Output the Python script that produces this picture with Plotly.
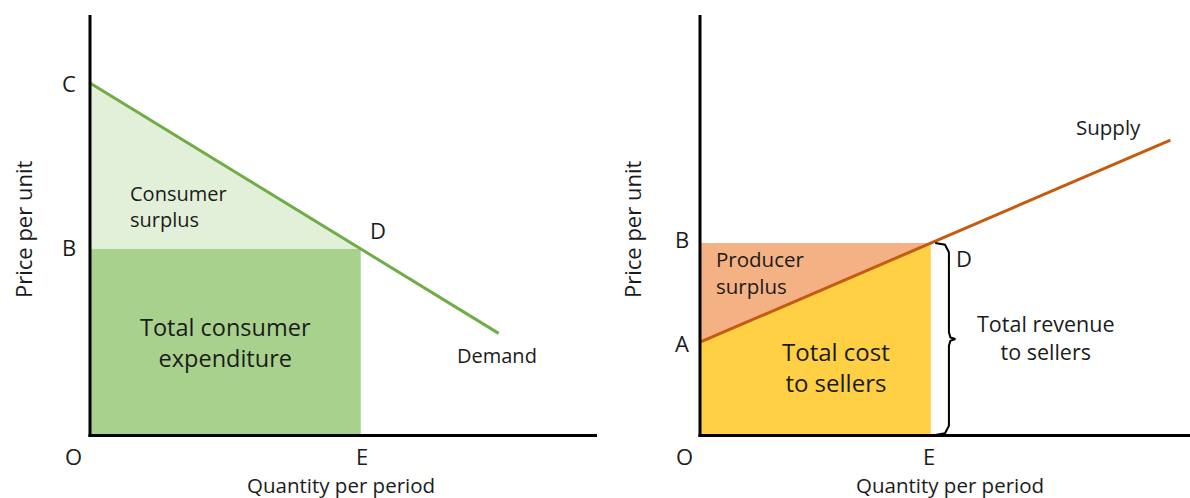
import plotly.graph_objects as go

# ---------------- data (abstract units, axes 0..100) ----------------
# Left panel: demand
demand_q = [0, 80.6]          # quantity at C and at end of demand line
demand_p = [83.8, 24.2]       # price at C and at end of demand line
eq1_q = 53.4                  # E (quantity)
eq1_p = 44.3                  # B (price)

# Right panel: supply
supply_q = [0, 96.0]
supply_p = [22.1, 70.2]       # A and end of supply line
eq2_q = 47.1                  # E
eq2_p = 45.7                  # B

W, H = 1190, 498
FONT = "Open Sans"
TXT = "#1b1b1b"

LIGHT_GREEN = "#E2F0D9"
MID_GREEN = "#A9D18E"
LINE_GREEN = "#70AD47"
ORANGE_FILL = "#F4B183"
YELLOW_FILL = "#FFD043"
LINE_ORANGE = "#C55A11"

fig = go.Figure()

# ---- left panel ----
fig.add_trace(go.Scatter(x=[0, 0, eq1_q, 0], y=[demand_p[0], eq1_p, eq1_p, demand_p[0]],
                         fill="toself", fillcolor=LIGHT_GREEN, line=dict(width=0),
                         mode="lines", hoverinfo="skip", xaxis="x", yaxis="y"))
fig.add_trace(go.Scatter(x=[0, eq1_q, eq1_q, 0, 0], y=[0, 0, eq1_p, eq1_p, 0],
                         fill="toself", fillcolor=MID_GREEN, line=dict(width=0),
                         mode="lines", hoverinfo="skip", xaxis="x", yaxis="y"))
fig.add_trace(go.Scatter(x=demand_q, y=demand_p, mode="lines",
                         line=dict(color=LINE_GREEN, width=3), hoverinfo="skip",
                         xaxis="x", yaxis="y"))

# ---- right panel ----
fig.add_trace(go.Scatter(x=[0, 0, eq2_q, 0], y=[supply_p[0], eq2_p, eq2_p, supply_p[0]],
                         fill="toself", fillcolor=ORANGE_FILL, line=dict(width=0),
                         mode="lines", hoverinfo="skip", xaxis="x2", yaxis="y2"))
fig.add_trace(go.Scatter(x=[0, eq2_q, eq2_q, 0, 0], y=[0, 0, eq2_p, supply_p[0], 0],
                         fill="toself", fillcolor=YELLOW_FILL, line=dict(width=0),
                         mode="lines", hoverinfo="skip", xaxis="x2", yaxis="y2"))
fig.add_trace(go.Scatter(x=supply_q, y=supply_p, mode="lines",
                         line=dict(color=LINE_ORANGE, width=3), hoverinfo="skip",
                         xaxis="x2", yaxis="y2"))

# brace spanning 0..B at E
mid = eq2_p / 2
bx = [eq2_q + 0.9, eq2_q + 2.9, eq2_q + 3.7, eq2_q + 3.7, eq2_q + 4.0, eq2_q + 5.0,
      eq2_q + 4.0, eq2_q + 3.7, eq2_q + 3.7, eq2_q + 2.9, eq2_q + 0.9]
by = [eq2_p, eq2_p - 0.4, eq2_p - 2.2, mid + 1.6, mid + 0.4, mid,
      mid - 0.4, mid - 1.6, 2.2, 0.4, 0]
fig.add_trace(go.Scatter(x=bx, y=by, mode="lines", line=dict(color="black", width=2),
                         hoverinfo="skip", xaxis="x2", yaxis="y2"))


def px(x):
    return x / W


def py(y):
    return 1 - y / H


ydom = [py(435), py(15)]
axis_common = dict(range=[0, 100], showgrid=False, zeroline=False, showticklabels=False,
                   ticks="", showline=False, fixedrange=True)

fig.update_layout(
    width=W, height=H, margin=dict(l=0, r=0, t=0, b=0),
    paper_bgcolor="white", plot_bgcolor="white", showlegend=False,
    xaxis=dict(domain=[px(90), px(597)], anchor="y", **axis_common),
    yaxis=dict(domain=ydom, anchor="x", **axis_common),
    xaxis2=dict(domain=[px(700), 1.0], anchor="y2", **axis_common),
    yaxis2=dict(domain=ydom, anchor="x2", **axis_common),
)

# axis lines
for x0, x1 in [(90, 597), (700, 1190)]:
    fig.add_shape(type="line", xref="paper", yref="paper", x0=px(x0 - 1.5), x1=px(x1),
                  y0=py(435.5), y1=py(435.5), line=dict(color="black", width=3))
    fig.add_shape(type="line", xref="paper", yref="paper", x0=px(x0), x1=px(x0),
                  y0=py(437), y1=py(15), line=dict(color="black", width=3))


def ann(text, x, y, size, align="center", xanchor="center", angle=0):
    fig.add_annotation(text=text, x=px(x), y=py(y), xref="paper", yref="paper",
                       showarrow=False, xanchor=xanchor, yanchor="middle", align=align,
                       textangle=angle, borderpad=0,
                       font=dict(family=FONT, size=size, color=TXT))


# left labels
ann("C", 69, 83, 22)
ann("B", 69, 247, 22)
ann("D", 378, 230, 22)
ann("O", 73, 456, 22)
ann("E", 362, 456, 22)
ann("Consumer<br>surplus", 129, 206, 20, align="left", xanchor="left")
ann("Total consumer<br>expenditure", 225, 342, 23.5)
ann("Demand", 497, 355, 20)
ann("Quantity per period", 341, 484.5, 20.5)
ann("Price per unit", 23, 230, 22, angle=-90)

# right labels
ann("B", 682, 239, 22)
ann("A", 682, 343, 22)
ann("D", 964, 258, 22)
ann("O", 684, 456, 22)
ann("E", 929, 456, 22)
ann("Producer<br>surplus", 715, 272, 20.5, align="left", xanchor="left")
ann("Total cost<br>to sellers", 836, 367, 24)
ann("Total revenue<br>to sellers", 1046, 337, 21.5)
ann("Supply", 1108, 127, 20.5)
ann("Quantity per period", 950, 484.5, 20.5)
ann("Price per unit", 632, 230, 22, angle=-90)

fig.write_html("out.html", config={"displayModeBar": False},
               post_script="document.body.style.margin='0';document.body.style.overflow='hidden';")
